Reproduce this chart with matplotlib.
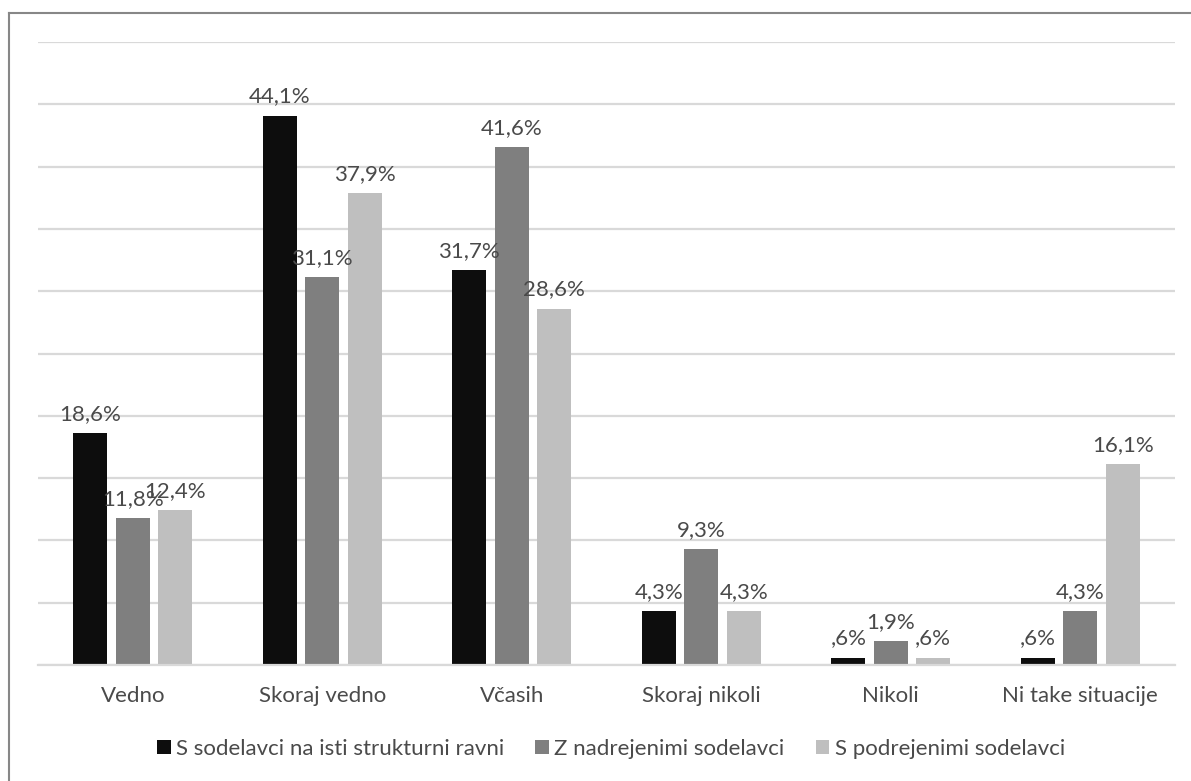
import matplotlib
matplotlib.use("Agg")
import matplotlib.pyplot as plt
from matplotlib.lines import Line2D
import numpy as np

# Response categories and the three groups of coworkers (percent)
categories = ["Vedno", "Skoraj vedno", "Včasih", "Skoraj nikoli", "Nikoli", "Ni take situacije"]
series_names = [
    "S sodelavci na isti strukturni ravni",
    "Z nadrejenimi sodelavci",
    "S podrejenimi sodelavci",
]
same_level = [18.6, 44.1, 31.7, 4.3, 0.6, 0.6]
superiors = [11.8, 31.1, 41.6, 9.3, 1.9, 4.3]
subordinates = [12.4, 37.9, 28.6, 4.3, 0.6, 16.1]

series_values = [same_level, superiors, subordinates]
colors = ["#0d0d0d", "#7f7f7f", "#bfbfbf"]

plt.rcParams["font.family"] = ["Lato", "DejaVu Sans"]
FS = 16
TEXT = "#4a4a4a"


def pct_label(v):
    s = f"{v:.1f}".replace(".", ",")
    if s.startswith("0"):
        s = s[1:]
    return s + "%"


fig = plt.figure(figsize=(11.91, 7.81), dpi=100)
fig.patch.set_facecolor("white")
ax = fig.add_axes([38 / 1191, 1 - 665 / 781, (1175 - 38) / 1191, (665 - 42) / 781])

x = np.arange(len(categories))
width = 0.179
step = 0.224

for i, (name, vals, col) in enumerate(zip(series_names, series_values, colors)):
    pos = x + (i - 1) * step
    bars = ax.bar(pos, vals, width=width, color=col, label=name, zorder=2)
    for b, v in zip(bars, vals):
        ax.annotate(pct_label(v), (b.get_x() + b.get_width() / 2, v),
                    xytext=(0, 9.4), textcoords="offset points",
                    ha="center", va="baseline", fontsize=FS, color=TEXT, zorder=3)

ax.set_xlim(-0.5, len(categories) - 0.5)
ax.set_ylim(0, 50)
ax.set_yticks(np.arange(0, 51, 5))
ax.yaxis.grid(True, color="#d9d9d9", linewidth=1.6, zorder=0)
ax.set_axisbelow(True)
ax.tick_params(axis="y", left=False, labelleft=False)
ax.set_xticks(x)
ax.set_xticklabels(categories, fontsize=FS, color=TEXT)
ax.tick_params(axis="x", length=0, pad=15)
for side in ["top", "right", "left"]:
    ax.spines[side].set_visible(False)
ax.spines["bottom"].set_color("#d9d9d9")
ax.spines["bottom"].set_linewidth(1.6)

fig.legend(loc="center", bbox_to_anchor=(611 / 1191, 1 - 749 / 781), ncol=3,
           frameon=False, fontsize=FS, labelcolor=TEXT,
           handlelength=0.6, handleheight=0.6, handletextpad=0.25,
           columnspacing=1.4)

# Chart frame (left and top edges visible)
fig.add_artist(Line2D([8.5 / 1191, 8.5 / 1191], [0, 1 - 13 / 781],
                      transform=fig.transFigure, color="#878787", linewidth=1.5))
fig.add_artist(Line2D([8.5 / 1191, 1], [1 - 13 / 781, 1 - 13 / 781],
                      transform=fig.transFigure, color="#878787", linewidth=1.5))

fig.savefig("out.png", dpi=100, facecolor="white")
